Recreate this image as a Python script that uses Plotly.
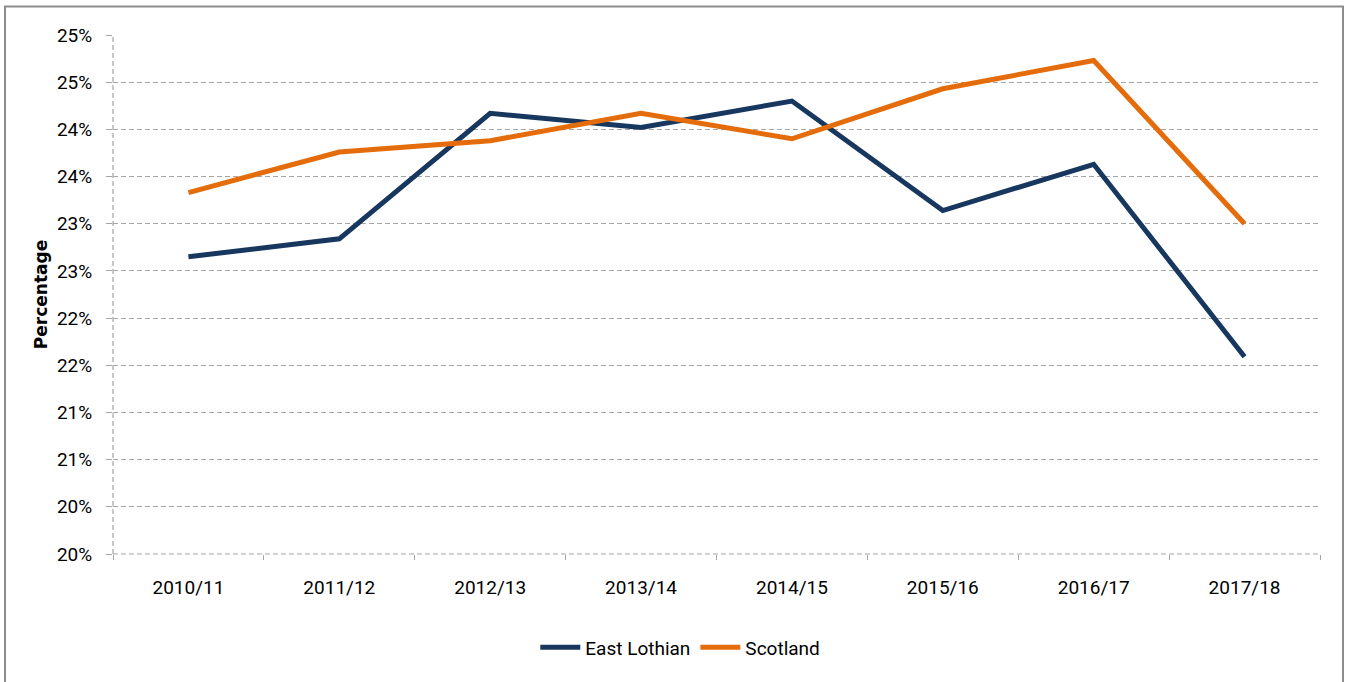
import plotly.graph_objects as go

# Financial years on the category axis
years = ["2010/11", "2011/12", "2012/13", "2013/14", "2014/15", "2015/16", "2016/17", "2017/18"]

# Percentage values for each area
east_lothian = [22.65, 22.84, 24.17, 24.02, 24.30, 23.14, 23.63, 21.59]
scotland = [23.33, 23.76, 23.88, 24.17, 23.90, 24.43, 24.73, 23.00]

# Y-axis ticks every half percent, labelled as whole percents (rounded half up)
y_tick_values = [19.5, 20.0, 20.5, 21.0, 21.5, 22.0, 22.5, 23.0, 23.5, 24.0, 24.5, 25.0]
y_tick_labels = ["20%", "20%", "21%", "21%", "22%", "22%", "23%", "23%", "24%", "24%", "25%", "25%"]

W, H = 1350, 682
L, R, T, B = 113, 30, 34.5, 127.5

label_font = dict(family="Roboto, Arial, sans-serif", size=19, color="#000000")
grid_color = "#A6A6A6"
dash_style = "5px,3px"

fig = go.Figure()
fig.add_trace(go.Scatter(
    x=years, y=east_lothian, name="East Lothian", mode="lines",
    line=dict(color="#17375E", width=5),
))
fig.add_trace(go.Scatter(
    x=years, y=scotland, name="Scotland", mode="lines",
    line=dict(color="#E46C0A", width=5),
))

pw = W - L - R
ph = H - T - B
# Outer chart border
fig.add_shape(
    type="rect", xref="paper", yref="paper", layer="below",
    x0=(5 - L) / pw, x1=(1343 - L) / pw,
    y0=(H - B - 700) / ph, y1=(H - B - 6) / ph,
    line=dict(color="#8C8C8C", width=2), fillcolor="rgba(0,0,0,0)",
)

fig.update_layout(
    width=W, height=H,
    margin=dict(l=L, r=R, t=T, b=B),
    paper_bgcolor="white", plot_bgcolor="white",
    showlegend=True,
    legend=dict(
        orientation="h", x=0.47, xanchor="center", y=-0.18, yanchor="middle",
        font=label_font, itemwidth=40, traceorder="normal",
    ),
    xaxis=dict(
        type="category", range=[-0.5, 7.5],
        showgrid=False, zeroline=False,
        showline=False,
        ticks="outside", tickson="boundaries", ticklen=5, tickcolor=grid_color,
        tickfont=label_font, ticklabelstandoff=20,
    ),
    yaxis=dict(
        range=[19.5, 25.0],
        tickvals=y_tick_values, ticktext=y_tick_labels,
        showgrid=True, gridcolor=grid_color, griddash=dash_style, gridwidth=1.2,
        zeroline=False,
        showline=False,
        ticks="outside", ticklen=6, tickcolor=grid_color,
        tickfont=label_font, ticklabelstandoff=10,
        title=dict(
            text="<b>Percentage</b>",
            font=dict(family="DejaVu Sans, Verdana, sans-serif", size=17, color="#000000"),
            standoff=4,
        ),
    ),
)

# Dashed axis lines along the left and bottom edges of the plot
fig.add_shape(
    type="line", xref="paper", yref="paper", x0=0, x1=0, y0=0, y1=1,
    line=dict(color=grid_color, width=1.2, dash=dash_style),
)
fig.add_shape(
    type="line", xref="paper", yref="paper", x0=0, x1=1, y0=0, y1=0,
    line=dict(color=grid_color, width=1.2, dash=dash_style),
)

fig.write_html("out.html")
